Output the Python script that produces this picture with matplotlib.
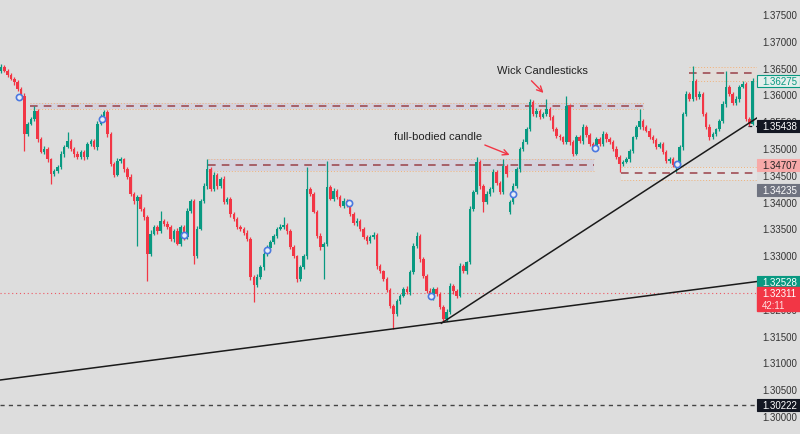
import matplotlib.pyplot as plt
import matplotlib.transforms as mtransforms
from matplotlib.patches import Rectangle

# candle closes (one candle every ~3.3 px)
closes = [
    1.3653, 1.3646, 1.3638, 1.3631, 1.3625, 1.3612, 1.3599, 1.3528, 1.3547, 1.3556,
    1.3571, 1.3519, 1.3495, 1.3500, 1.3481, 1.3453, 1.3459, 1.3467, 1.3491, 1.3504,
    1.3515, 1.3500, 1.3491, 1.3485, 1.3495, 1.3485, 1.3509, 1.3515, 1.3504, 1.3547,
    1.3560, 1.3569, 1.3528, 1.3472, 1.3452, 1.3478, 1.3481, 1.3463, 1.3448, 1.3416,
    1.3403, 1.3411, 1.3388, 1.3373, 1.3304, 1.3342, 1.3355, 1.3347, 1.3366, 1.3360,
    1.3355, 1.3332, 1.3347, 1.3323, 1.3355, 1.3336, 1.3384, 1.3403, 1.3300, 1.3351,
    1.3403, 1.3431, 1.3463, 1.3425, 1.3452, 1.3431, 1.3444, 1.3401, 1.3407, 1.3379,
    1.3369, 1.3355, 1.3351, 1.3344, 1.3332, 1.3261, 1.3246, 1.3261, 1.3280, 1.3304,
    1.3315, 1.3327, 1.3338, 1.3351, 1.3355, 1.3358, 1.3347, 1.3317, 1.3300, 1.3258,
    1.3280, 1.3300, 1.3425, 1.3416, 1.3383, 1.3338, 1.3317, 1.3323, 1.3429, 1.3407,
    1.3422, 1.3411, 1.3394, 1.3403, 1.3397, 1.3379, 1.3362, 1.3366, 1.3351, 1.3336,
    1.3328, 1.3336, 1.3340, 1.3282, 1.3272, 1.3258, 1.3237, 1.3207, 1.3192, 1.3216,
    1.3226, 1.3239, 1.3233, 1.3271, 1.3319, 1.3338, 1.3295, 1.3263, 1.3235, 1.3224,
    1.3239, 1.3230, 1.3205, 1.3183, 1.3196, 1.3244, 1.3235, 1.3226, 1.3282, 1.3272,
    1.3289, 1.3388, 1.3420, 1.3476, 1.3431, 1.3401, 1.3416, 1.3425, 1.3457, 1.3437,
    1.3420, 1.3468, 1.3453, 1.3401, 1.3431, 1.3463, 1.3500, 1.3513, 1.3537, 1.3588,
    1.3565, 1.3571, 1.3560, 1.3565, 1.3575, 1.3560, 1.3537, 1.3524, 1.3522, 1.3513,
    1.3580, 1.3513, 1.3491, 1.3522, 1.3515, 1.3541, 1.3526, 1.3509, 1.3504, 1.3519,
    1.3509, 1.3528, 1.3519, 1.3513, 1.3500, 1.3485, 1.3472, 1.3476, 1.3481, 1.3496,
    1.3522, 1.3541, 1.3552, 1.3541, 1.3534, 1.3522, 1.3517, 1.3504, 1.3509, 1.3495,
    1.3478, 1.3481, 1.3470, 1.3472, 1.3504, 1.3565, 1.3603, 1.3593, 1.3627, 1.3597,
    1.3603, 1.3565, 1.3541, 1.3522, 1.3528, 1.3537, 1.3552, 1.3584, 1.3616, 1.3603,
    1.3586, 1.3593, 1.3616, 1.3621, 1.3556, 1.3547, 1.36275,
]
first_open = 1.3645
session_gaps = {153: 1.3383}

# wick lengths beyond the body, in pips
upper_wick = [
    6, 3, 4, 3, 4, 3, 4, 5, 4, 3, 9, 4, 3, 5, 4, 3, 4, 4, 5, 4,
    17, 4, 3, 5, 4, 3, 5, 4, 3, 5, 6, 4, 3, 4, 3, 5, 4, 3, 4, 5,
    4, 3, 5, 4, 3, 6, 4, 3, 19, 4, 5, 3, 4, 5, 4, 3, 6, 4, 3, 5,
    4, 5, 19, 4, 6, 4, 3, 5, 4, 3, 4, 5, 3, 4, 4, 3, 4, 5, 3, 4,
    5, 3, 4, 4, 6, 15, 4, 3, 4, 3, 4, 5, 41, 4, 3, 4, 5, 4, 49, 4,
    5, 3, 4, 6, 4, 3, 4, 5, 3, 4, 3, 4, 5, 3, 4, 3, 4, 3, 4, 5,
    4, 3, 5, 4, 6, 8, 4, 3, 4, 5, 3, 4, 3, 4, 5, 6, 4, 3, 5, 4,
    3, 5, 4, 9, 4, 3, 5, 4, 6, 3, 4, 13, 4, 3, 5, 4, 3, 5, 4, 6,
    4, 5, 3, 4, 19, 4, 3, 5, 4, 3, 19, 4, 3, 5, 4, 6, 3, 4, 5, 4,
    3, 5, 4, 3, 4, 5, 3, 4, 5, 4, 3, 4, 22, 4, 3, 5, 4, 3, 4, 5,
    3, 4, 5, 4, 3, 4, 6, 4, 28, 4, 5, 3, 4, 5, 4, 3, 4, 5, 30, 4,
    3, 5, 4, 6, 4, 3, 5,
]
lower_wick = [
    4, 3, 4, 3, 5, 4, 3, 32, 4, 3, 4, 5, 3, 4, 5, 19, 4, 3, 4, 5,
    3, 4, 5, 3, 4, 5, 4, 3, 4, 5, 3, 4, 6, 4, 5, 3, 4, 5, 4, 3,
    5, 84, 4, 5, 50, 4, 3, 5, 4, 3, 5, 4, 6, 3, 4, 5, 4, 3, 15, 4,
    3, 4, 5, 3, 4, 5, 4, 3, 4, 5, 3, 4, 4, 5, 3, 6, 32, 4, 3, 5,
    4, 3, 5, 4, 3, 4, 5, 3, 4, 6, 4, 3, 5, 4, 3, 4, 5, 60, 4, 3,
    4, 5, 3, 4, 5, 4, 3, 5, 4, 3, 5, 4, 3, 6, 4, 5, 4, 3, 28, 4,
    5, 3, 4, 5, 4, 3, 5, 4, 3, 4, 5, 4, 3, 6, 4, 3, 5, 4, 3, 4,
    5, 4, 3, 4, 5, 19, 4, 3, 5, 4, 3, 4, 5, 4, 3, 4, 5, 3, 4, 4,
    3, 5, 4, 3, 4, 5, 4, 3, 5, 4, 3, 5, 4, 3, 4, 5, 4, 3, 4, 5,
    4, 3, 5, 4, 3, 4, 15, 4, 3, 5, 4, 3, 4, 5, 3, 4, 5, 4, 3, 4,
    5, 4, 3, 13, 4, 5, 3, 4, 3, 5, 4, 3, 4, 5, 4, 3, 4, 3, 5, 4,
    3, 4, 5, 3, 4, 4, 3,
]

# zones: (start candle, end candle, low, high, level, fill)
zones = [
    (8.7, 193.4, 1.3575, 1.3586, 1.3580, '#d5d2dc'),
    (62.2, 178.4, 1.3459, 1.3481, 1.3470, '#d5d2dc'),
    (186.5, 227.3, 1.3442, 1.3467, 1.3455, '#e3e3e3'),
    (206.9, 227.3, 1.3627, 1.3653, 1.3642, '#e2dcd8'),
]
# trend lines: (x0, y0, x1, y1)
trend_long = (-0.3, 1.3069, 227.3, 1.32528)
trend_steep = (132.4, 1.3175, 227.3, 1.3558)

alert_idx = [5.4, 30.3, 55.0, 79.9, 104.5, 129.4, 154.0, 178.7, 203.3]
alert_px = [1.3597, 1.3556, 1.3340, 1.3312, 1.3399, 1.3226, 1.3416, 1.3502, 1.3472]

axis_ticks = [1.375, 1.370, 1.365, 1.360, 1.355, 1.350, 1.345, 1.340, 1.335,
              1.330, 1.325, 1.320, 1.315, 1.310, 1.305, 1.300]
# price tags: (price, text, face, edge, text colour)
price_tags = [
    (1.36275, '1.36275', '#e4efec', '#089981', '#089981'),
    (1.35438, '1.35438', '#131722', '#131722', 'white'),
    (1.34707, '1.34707', '#f7a9a8', '#f7a9a8', '#222222'),
    (1.34235, '1.34235', '#6f7380', '#6f7380', 'white'),
    (1.32528, '1.32528', '#089981', '#089981', 'white'),
    (1.30222, '1.30222', '#131722', '#131722', 'white'),
]
last_price = 1.32311
countdown = '42:11'

GREEN = '#089981'
RED = '#f23645'
BG = '#dddddd'
PIP = 0.0001

opens = [first_open] + closes[:-1]
for k, v in session_gaps.items():
    opens[k] = v
n = len(closes)
idx = list(range(n))
highs = [max(o, c) + u * PIP for o, c, u in zip(opens, closes, upper_wick)]
lows = [min(o, c) - d * PIP for o, c, d in zip(opens, closes, lower_wick)]
cols = [GREEN if c >= o else RED for o, c in zip(opens, closes)]

fig = plt.figure(figsize=(8, 4.35), dpi=100)
fig.patch.set_facecolor(BG)
ax = fig.add_axes([0, 0, 757 / 800, 1])
ax.set_facecolor(BG)
ax.set_xlim(-0.3, 227.3)
ax.set_ylim(1.29683, 1.37799)
ax.set_xticks([])
ax.set_yticks([])
for s in ax.spines.values():
    s.set_visible(False)

# zones
for x0, x1, lo, hi, lvl, fc in zones:
    ax.add_patch(Rectangle((x0, lo), x1 - x0, hi - lo, facecolor=fc,
                           edgecolor='none', zorder=1))
    for edge in (lo, hi):
        ax.plot([x0, x1], [edge, edge], color='#f0b27a', lw=0.7, ls=(0, (1, 2)), zorder=1.5)
    ax.plot([x0, x1], [lvl, lvl], color='#9a4048', lw=1.1, ls=(0, (5, 4)), zorder=1.6)

ax.axhline(last_price, color=RED, lw=0.8, ls=(0, (1, 2.5)), alpha=0.8, zorder=1.2)
ax.axhline(1.30222, color='#444444', lw=1.0, ls=(0, (3, 3)), zorder=1.2)
ax.plot([224.5, 227.3], [1.35438, 1.35438], color='#131722', lw=0.9, ls=(0, (3, 3)))

# candles
ax.vlines(idx, lows, highs, colors=cols, lw=0.9, zorder=3)
bodies = [max(abs(c - o), 0.00008) for o, c in zip(opens, closes)]
ax.bar(idx, bodies, bottom=[min(o, c) for o, c in zip(opens, closes)],
       width=0.75, color=cols, linewidth=0, zorder=3)

# trend lines
for x0, y0, x1, y1 in (trend_long, trend_steep):
    ax.plot([x0, x1], [y0, y1], color='#1a1a1a', lw=1.1, zorder=4)

ax.scatter(alert_idx, alert_px, s=20, facecolors='#e8ecf8', edgecolors='#4a78e0',
           linewidths=1.2, zorder=5)

# annotations
font = 'Liberation Sans'
ax.text(149, 1.36475, 'Wick Candlesticks', fontsize=8, family=font,
        color='#222222', va='center', ha='left', zorder=6)
ax.annotate('', xy=(163.7, 1.3601), xytext=(158.9, 1.3631),
            arrowprops=dict(arrowstyle='->', color=RED, lw=1.0, mutation_scale=10), zorder=6)
ax.text(118.3, 1.35244, 'full-bodied candle', fontsize=8, family=font,
        color='#222222', va='center', ha='left', zorder=6)
ax.annotate('', xy=(153.7, 1.3487), xytext=(144.7, 1.35094),
            arrowprops=dict(arrowstyle='->', color=RED, lw=1.0, mutation_scale=10), zorder=6)

# price scale on the right
tr = mtransforms.blended_transform_factory(ax.transAxes, ax.transData)
x_left = 1.0
x_w = 800 / 757 - 1.0
x_txt = 1.0066
for p in axis_ticks:
    ax.text(x_txt, p, f'{p:.5f}', transform=tr, fontsize=7, family=font,
            color='#333333', va='center', ha='left', clip_on=False, zorder=7)

h = 12 * 0.0001866
for p, label, fc, ec, tc in price_tags:
    ax.add_patch(Rectangle((x_left, p - h / 2), x_w, h, transform=tr, facecolor=fc,
                           edgecolor=ec, lw=0.8, clip_on=False, zorder=8))
    ax.text(x_txt, p, label, transform=tr, fontsize=7, family=font, color=tc,
            va='center', ha='left', clip_on=False, zorder=9)

ax.add_patch(Rectangle((x_left, last_price - h * 1.5), x_w, h * 2, transform=tr,
                       facecolor=RED, edgecolor=RED, clip_on=False, zorder=8))
ax.text(x_txt, last_price, f'{last_price:.5f}', transform=tr, fontsize=7, family=font,
        color='white', va='center', ha='left', clip_on=False, zorder=9)
ax.text(x_txt, last_price - h, countdown, transform=tr, fontsize=7, family=font,
        color='#ffe0e0', va='center', ha='left', clip_on=False, zorder=9)

fig.savefig('out.png', dpi=100)
